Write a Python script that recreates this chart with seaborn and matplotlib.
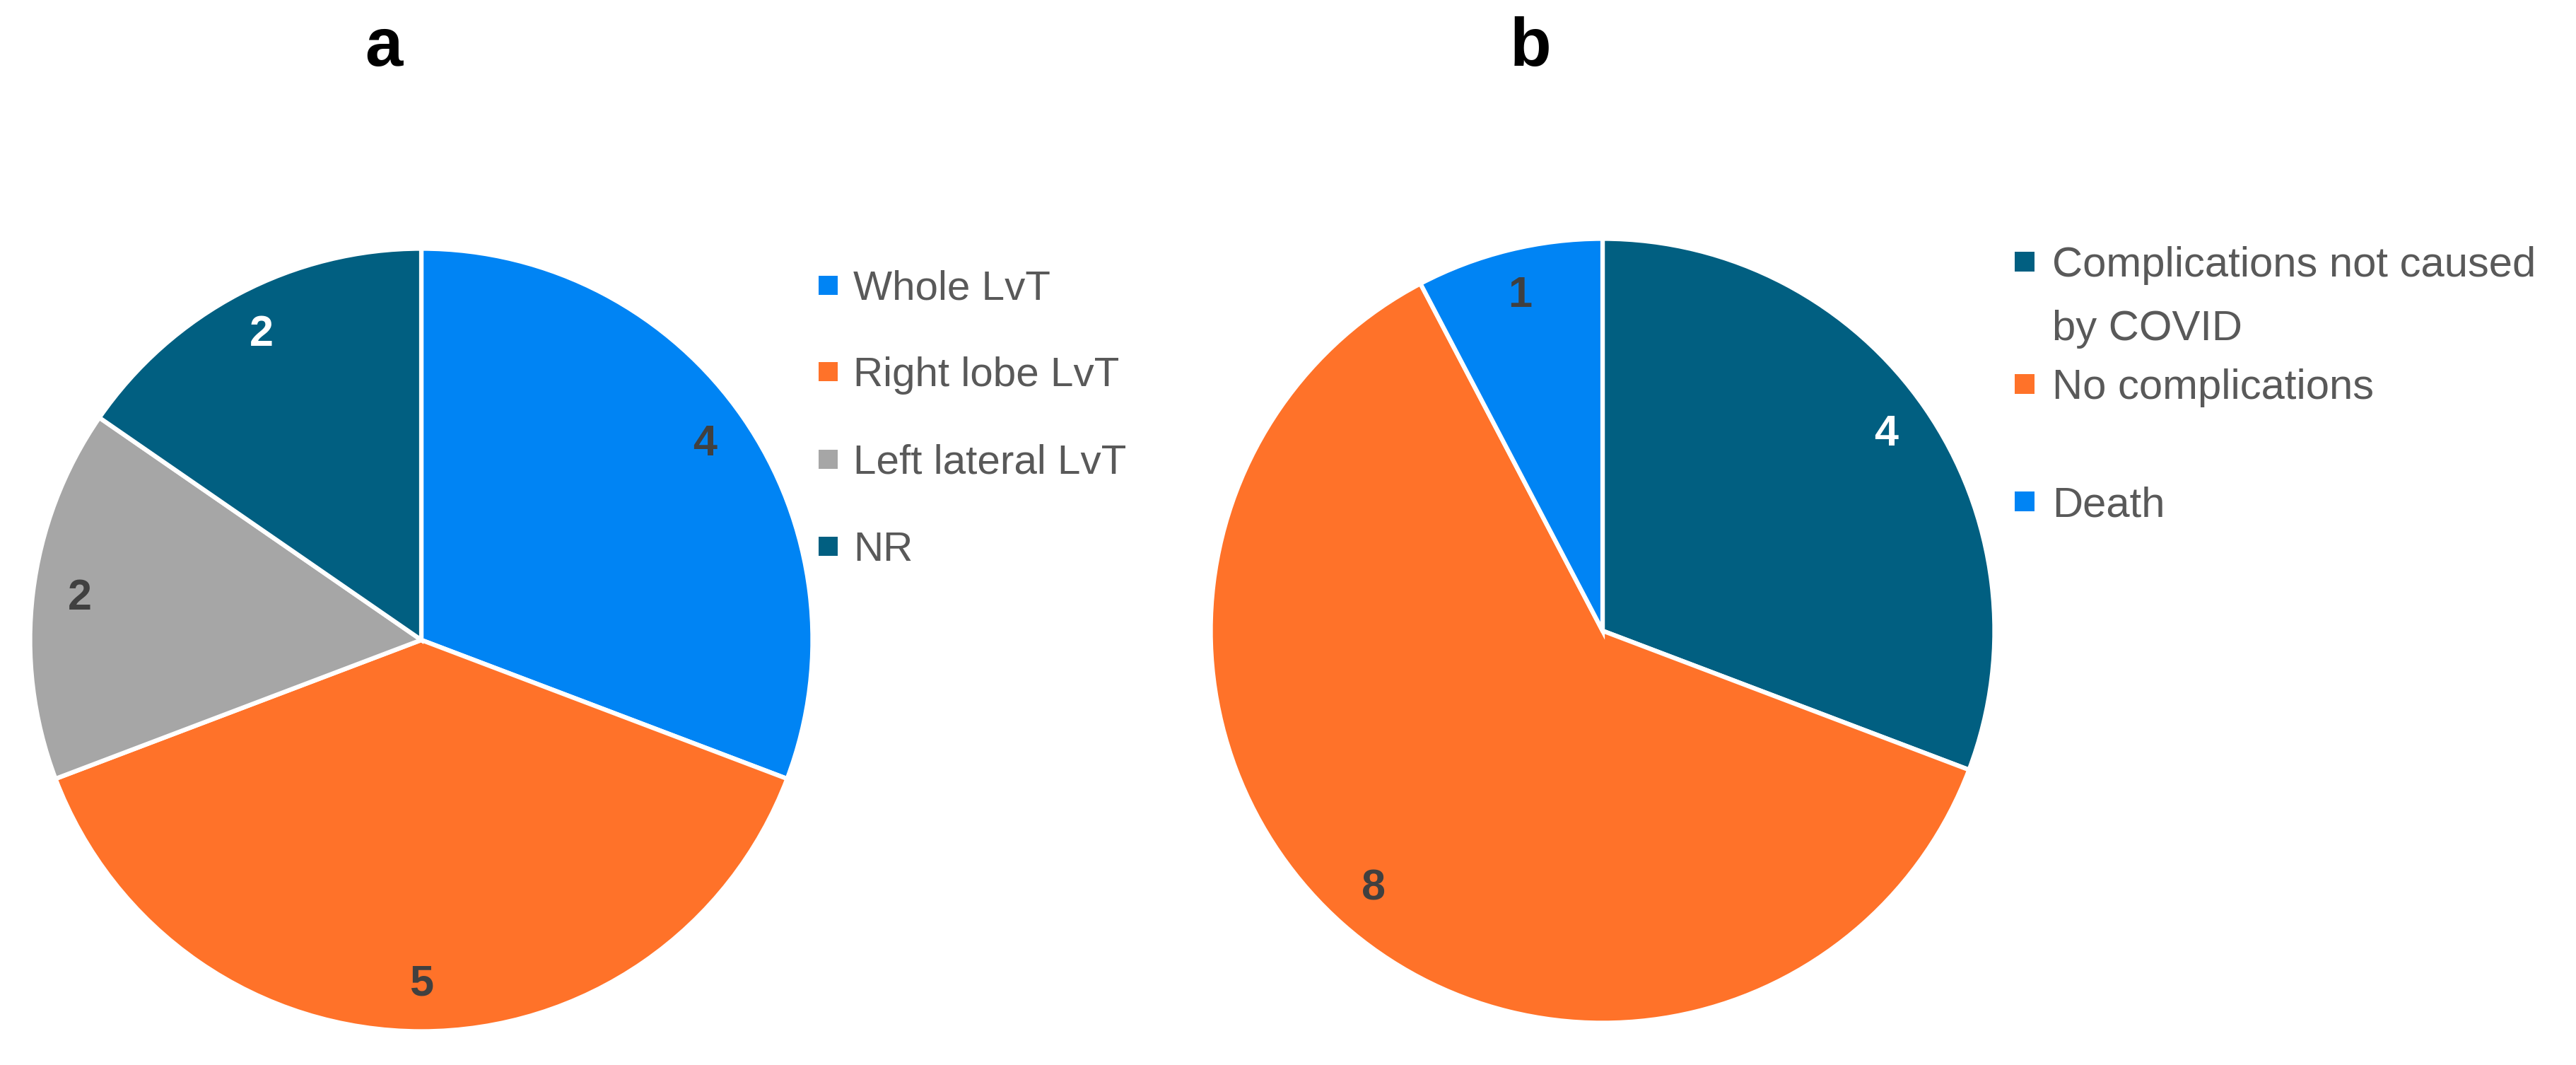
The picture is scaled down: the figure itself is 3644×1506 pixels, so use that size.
import matplotlib
matplotlib.use("Agg")
import matplotlib.pyplot as plt
from matplotlib.patches import Rectangle
import seaborn as sns

# panel a: type of liver transplant
lvt_types = ["Whole LvT", "Right lobe LvT", "Left lateral LvT", "NR"]
lvt_counts = [4, 5, 2, 2]

# panel b: outcome
outcomes = ["Complications not caused\nby COVID", "No complications", "Death"]
outcome_counts = [4, 8, 1]

BLUE = "#0084F4"
ORANGE = "#FF7229"
GRAY = "#A6A6A6"
NAVY = "#015F81"
DARK = "#404040"

lvt_colors = sns.color_palette([BLUE, ORANGE, GRAY, NAVY])
outcome_colors = sns.color_palette([NAVY, ORANGE, BLUE])

sns.set_theme(style="white")
plt.rcParams["font.family"] = ["Liberation Sans", "DejaVu Sans"]

W, H = 3644, 1506
fig = plt.figure(figsize=(W / 100, H / 100), dpi=100)


def px_axes(cx, cy, r):
    return fig.add_axes([(cx - r) / W, (H - cy - r) / H, 2 * r / W, 2 * r / H])


def draw_pie(ax, values, colors, label_colors):
    total = sum(values)
    wedges, _, autotexts = ax.pie(
        values, colors=colors, startangle=90, counterclock=False,
        autopct=lambda p: f"{round(p * total / 100)}", pctdistance=0.88,
        wedgeprops=dict(edgecolor="white", linewidth=4.5),
        textprops=dict(fontsize=44, fontweight="bold"))
    for t, c in zip(autotexts, label_colors):
        t.set_color(c)
    ax.set_xlim(-1.01, 1.01)
    ax.set_ylim(-1.01, 1.01)
    ax.set_aspect("equal")
    ax.axis("off")


def draw_legend(labels, colors, x_box, x_text, ys, size, box, gap):
    cap = 0.716 * size / 0.72
    for lab, col, y in zip(labels, colors, ys):
        fig.patches.append(Rectangle((x_box / W, (H - y - box / 2) / H), box / W, box / H,
                                     transform=fig.transFigure, facecolor=col,
                                     edgecolor="none"))
        for i, line in enumerate(lab.split("\n")):
            base = y + cap / 2 + i * gap
            fig.text(x_text / W, 1 - base / H, line, ha="left", va="baseline",
                     fontsize=size, color="#595959")


ax_a = px_axes(596, 905, 559)
draw_pie(ax_a, lvt_counts, lvt_colors, [DARK, DARK, DARK, "white"])
draw_legend(lvt_types, lvt_colors, 1158, 1207, [403, 525, 649, 772], 42, 27, 0)

ax_b = px_axes(2267, 892, 560)
draw_pie(ax_b, outcome_counts, outcome_colors, ["white", DARK, DARK])
draw_legend(outcomes, outcome_colors, 2850, 2903, [370, 543, 709], 43, 28, 90)

fig.text(543 / W, 1 - 93 / H, "a", ha="center", va="baseline",
         fontsize=69, fontweight="bold", color="black")
fig.text(2165 / W, 1 - 93 / H, "b", ha="center", va="baseline",
         fontsize=69, fontweight="bold", color="black")

fig.savefig("out.png", dpi=100, facecolor="white")
